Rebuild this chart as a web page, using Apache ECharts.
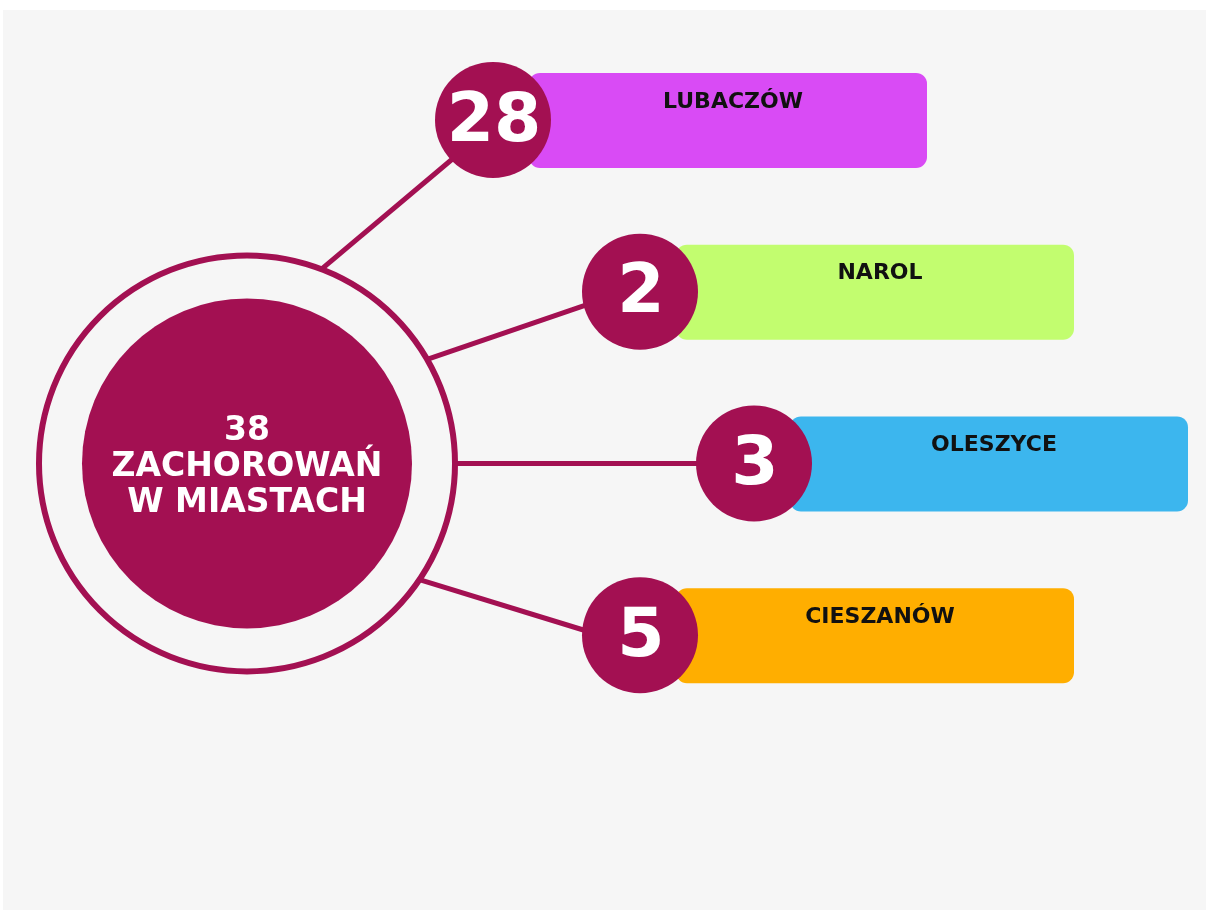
<!DOCTYPE html>
<html>
<head>
<meta charset="utf-8">
<title>Zachorowania w miastach</title>
<script src="https://cdn.jsdelivr.net/npm/echarts@6/dist/echarts.min.js"></script>
<style>
  html, body { margin: 0; padding: 0; background: #ffffff; }
  #main { width: 1206px; height: 910px; }
</style>
</head>
<body>
<div id="main"></div>
<script>
// dane
var cities = ['LUBACZÓW', 'NAROL', 'OLESZYCE', 'CIESZANÓW'];
var counts = [28, 2, 3, 5];
var centerLabel = ['ZACHOROWAŃ', 'W MIASTACH'];

// kolory paskow
var barColors = ['#d94bf5', '#c2fd6f', '#3cb6ee', '#ffae00'];
var wine = '#a31052';

// uklad (pozycje plakietek w pikselach osi x)
var badgeX = [493, 640, 754, 640];
var ringAngle = [-69, -30, 0, 34];      // gdzie linia wychodzi z pierscienia
var badgeAngle = [136, 166, 180, 185];  // gdzie linia wchodzi w kolo z liczba
var centerX = 247, centerRow = 2;
var ringR = 208, innerR = 165, badgeR = 58;

var total = counts.reduce(function (a, b) { return a + b; }, 0);

var myChart = echarts.init(document.getElementById('main'));

function rad(d) { return d * Math.PI / 180; }

function centerPoint(api) {
    return api.coord([centerX, centerRow]);
}

var option = {
    backgroundColor: '#ffffff',
    animation: false,
    graphic: [{
        type: 'rect',
        shape: { x: 3, y: 10, width: 1203, height: 900 },
        style: { fill: '#f6f6f6' },
        z: -10
    }],
    grid: { left: 0, right: 0, top: 34, height: 687 },
    xAxis: { type: 'value', min: 0, max: 1206, show: false },
    yAxis: { type: 'category', data: cities, inverse: true, show: false },
    series: [
        {
            // linie laczace
            type: 'custom',
            z: 1,
            silent: true,
            data: counts.map(function (v, i) { return [badgeX[i], i]; }),
            renderItem: function (params, api) {
                var i = api.value(1);
                var c = centerPoint(api);
                var p = api.coord([api.value(0), i]);
                var a1 = rad(ringAngle[i]), a2 = rad(badgeAngle[i]);
                return {
                    type: 'line',
                    shape: {
                        x1: c[0] + ringR * Math.cos(a1), y1: c[1] + ringR * Math.sin(a1),
                        x2: p[0] + (badgeR - 2) * Math.cos(a2), y2: p[1] + (badgeR - 2) * Math.sin(a2)
                    },
                    style: { stroke: wine, lineWidth: 5 }
                };
            }
        },
        {
            // kolo srodkowe
            type: 'custom',
            z: 2,
            silent: true,
            data: [[centerX, centerRow, total]],
            renderItem: function (params, api) {
                var c = centerPoint(api);
                return {
                    type: 'group',
                    children: [
                        {
                            type: 'circle',
                            shape: { cx: c[0], cy: c[1], r: ringR },
                            style: { fill: 'none', stroke: wine, lineWidth: 6 }
                        },
                        {
                            type: 'circle',
                            shape: { cx: c[0], cy: c[1], r: innerR },
                            style: { fill: wine }
                        },
                        {
                            type: 'text',
                            x: c[0], y: c[1] + 4,
                            style: {
                                text: api.value(2) + '\n' + centerLabel.join('\n'),
                                fill: '#ffffff',
                                font: 'bold 33px "DejaVu Sans"',
                                lineHeight: 36,
                                align: 'center',
                                verticalAlign: 'middle'
                            }
                        }
                    ]
                };
            }
        },
        {
            // paski z nazwami i liczby
            type: 'custom',
            z: 3,
            silent: true,
            data: counts.map(function (v, i) { return [badgeX[i], i, v]; }),
            renderItem: function (params, api) {
                var i = api.value(1);
                var p = api.coord([api.value(0), i]);
                return {
                    type: 'group',
                    children: [
                        {
                            type: 'rect',
                            shape: { x: p[0] + 36, y: p[1] - 47, width: 398, height: 95, r: 11 },
                            style: { fill: barColors[i] }
                        },
                        {
                            type: 'text',
                            x: p[0] + 240, y: p[1] - 18,
                            style: {
                                text: cities[i],
                                fill: '#111111',
                                font: 'bold 22px "DejaVu Sans"',
                                align: 'center',
                                verticalAlign: 'middle'
                            }
                        },
                        {
                            type: 'circle',
                            shape: { cx: p[0], cy: p[1], r: badgeR },
                            style: { fill: wine }
                        },
                        {
                            type: 'text',
                            x: p[0] + 1, y: p[1] + 3,
                            style: {
                                text: String(api.value(2)),
                                fill: '#ffffff',
                                font: 'bold 68px "DejaVu Sans"',
                                align: 'center',
                                verticalAlign: 'middle'
                            }
                        }
                    ]
                };
            }
        }
    ]
};

myChart.setOption(option);
</script>
</body>
</html>
